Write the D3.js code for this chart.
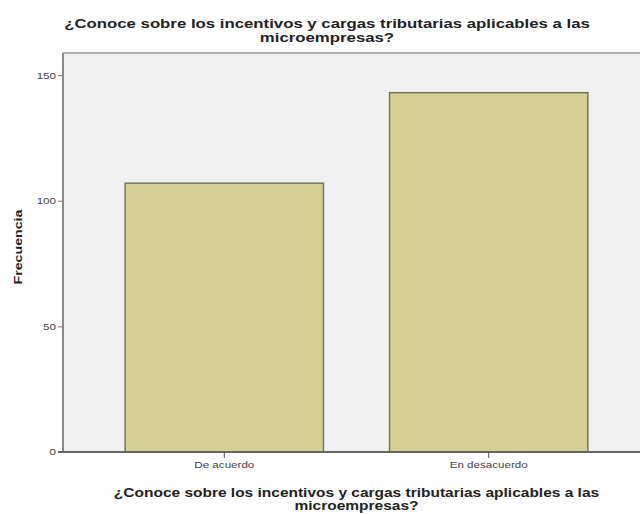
<!DOCTYPE html>
<html><head><meta charset="utf-8">
<script src="https://cdn.jsdelivr.net/npm/d3@7"></script>
<style>body{margin:0;background:#fff}svg{display:block}</style>
</head><body>
<svg id="c" width="640" height="514"></svg>
<script>
const categories = ["De acuerdo", "En desacuerdo"];
const values = [107, 143];
const yTicks = [0, 50, 100, 150];
const titleLines = ["¿Conoce sobre los incentivos y cargas tributarias aplicables a las", "microempresas?"];
const xTitleLines = ["¿Conoce sobre los incentivos y cargas tributarias aplicables a las", "microempresas?"];
const yTitle = "Frecuencia";

const FONT = "Arial, Liberation Sans, sans-serif";
const K = 1.29; // horizontal text stretch seen in the reference
function stretch(sel) {
  sel.each(function () {
    const w = this.getComputedTextLength();
    d3.select(this).attr("textLength", w * K).attr("lengthAdjust", "spacingAndGlyphs");
  });
}

const svg = d3.select("#c");
const pL = 63, pR = 650, pT = 53, pB = 452;
const x = d3.scaleBand().domain(categories).range([pL, pR]).paddingInner(0.25).paddingOuter(0.235);
const y = d3.scaleLinear().domain([0, 158.8]).range([pB, pT]);

svg.append("rect").attr("x", pL).attr("y", pT).attr("width", pR - pL).attr("height", pB - pT).attr("fill", "#f0f0f0");
svg.append("line").attr("x1", pL).attr("x2", pR).attr("y1", pT).attr("y2", pT).attr("stroke", "#9a9a9a").attr("stroke-width", 1.5);

svg.selectAll("rect.bar").data(values).join("rect").attr("class", "bar")
  .attr("x", (d, i) => x(categories[i])).attr("width", x.bandwidth())
  .attr("y", d => y(d)).attr("height", d => y(0) - y(d))
  .attr("fill", "#d3cf95").attr("stroke", "#77775a").attr("stroke-width", 1.5);

const ya = svg.append("g").attr("transform", `translate(${pL},0)`)
  .call(d3.axisLeft(y).tickValues(yTicks).tickSize(5).tickFormat(d3.format("d")));
ya.select(".domain").attr("stroke", "#8a8a8a").attr("stroke-width", 2).attr("d", `M0,${pT}V${pB}`);
ya.selectAll(".tick line").attr("stroke", "#777");
ya.selectAll("text").attr("font-family", FONT).attr("font-size", 9).attr("fill", "#444").attr("x", -7).call(stretch);

const xa = svg.append("g").attr("transform", `translate(0,${pB})`)
  .call(d3.axisBottom(x).tickSize(6).tickSizeOuter(0));
xa.select(".domain").attr("stroke", "#666").attr("stroke-width", 2).attr("d", `M${pL - 5},0H${pR}`);
xa.selectAll(".tick line").attr("stroke", "#555");
xa.selectAll("text").attr("font-family", FONT).attr("font-size", 9).attr("fill", "#444").attr("y", 10).call(stretch);

titleLines.forEach((l, i) => svg.append("text").attr("text-anchor", "middle").attr("font-family", FONT)
  .attr("font-weight", "bold").attr("font-size", 13).attr("fill", "#222")
  .attr("x", 327).attr("y", 28 + i * 14).text(l).call(stretch));

xTitleLines.forEach((l, i) => svg.append("text").attr("text-anchor", "middle").attr("font-family", FONT)
  .attr("font-weight", "bold").attr("font-size", 12).attr("fill", "#222")
  .attr("x", (pL + pR) / 2).attr("y", 497 + i * 13).text(l).call(stretch));

svg.append("text").attr("transform", `translate(22,247) rotate(-90)`).attr("text-anchor", "middle")
  .attr("font-family", FONT).attr("font-weight", "bold").attr("font-size", 11).attr("fill", "#222").text(yTitle).call(stretch);
</script>
</body></html>
